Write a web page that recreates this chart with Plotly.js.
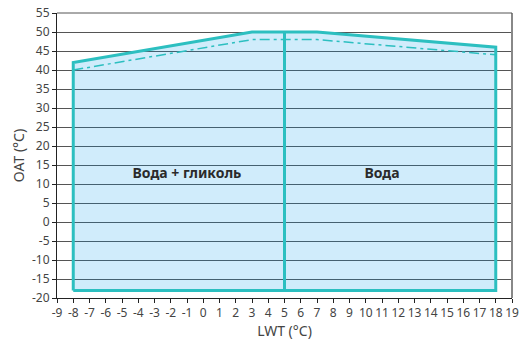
<!DOCTYPE html>
<html><head><meta charset="utf-8">
<script src="https://cdn.plot.ly/plotly-3.0.1.min.js"></script>
<style>html,body{margin:0;padding:0;background:#fff}#c{width:524px;height:340px}</style>
</head><body><div id="c"></div>
<script>
// Operating envelope (solid outline)
const envX = [-8, -8, 3, 7, 18, 18, -8];
const envY = [-18, 42, 50, 50, 46, -18, -18];
// Dash-dot limit
const dashX = [-8, 3, 7, 18];
const dashY = [40, 48, 48, 44];
// Divider between regions
const divX = [5, 5];
const divY = [-18, 50];
// Region labels
const labelText = ["Вода + гликоль", "Вода"];
const labelX = [-1, 11];
const labelY = [12.5, 12.5];
// Tick values
const xTicks = [-9,-8,-7,-6,-5,-4,-3,-2,-1,0,1,2,3,4,5,6,7,8,9,10,11,12,13,14,15,16,17,18,19];
const yTicks = [-20,-15,-10,-5,0,5,10,15,20,25,30,35,40,45,50,55];

const teal = '#2cbfc0';
const traces = [
  {x: envX, y: envY, mode: 'lines', fill: 'toself', fillcolor: 'rgba(0,152,233,0.185)',
   line: {color: teal, width: 3}, hoverinfo: 'skip'},
  {x: dashX, y: dashY, mode: 'lines', line: {color: teal, width: 1.5, dash: '10px,4px,3px,4px'}, hoverinfo: 'skip'},
  {x: divX, y: divY, mode: 'lines', line: {color: teal, width: 3}, hoverinfo: 'skip'},
  {x: labelX, y: labelY, mode: 'text', text: labelText,
   textfont: {family: 'Noto Sans, sans-serif', size: 14, color: '#2b2b2b', weight: 'bold'}, hoverinfo: 'skip'}
];
const font = {family: 'Noto Sans, DejaVu Sans, sans-serif', size: 12, color: '#444'};
const layout = {
  width: 524, height: 340,
  margin: {l: 57, r: 12, t: 13, b: 42},
  showlegend: false,
  paper_bgcolor: '#fff', plot_bgcolor: '#fff',
  font: font,
  xaxis: {range: [-9, 19], tickvals: xTicks, ticktext: xTicks.map(String), showgrid: false, zeroline: false,
    showline: true, linecolor: '#222', linewidth: 1, ticks: 'outside', ticklen: 4, tickcolor: '#222',
    tickfont: {family: font.family, size: 12, color: '#444'},
    title: {text: 'LWT (°C)', font: {family: font.family, size: 14, color: '#444'}, standoff: 0}},
  yaxis: {range: [-20, 55], tickvals: yTicks, ticktext: yTicks.map(String), showgrid: true, gridcolor: '#555', gridwidth: 1,
    zeroline: false, showline: true, linecolor: '#222', linewidth: 1, ticks: 'outside', ticklen: 4, tickcolor: '#222',
    tickfont: {family: font.family, size: 12, color: '#444'},
    title: {text: 'OAT (°C)', font: {family: font.family, size: 14, color: '#444'}, standoff: 4}},
  shapes: [
    {type: 'line', xref: 'paper', yref: 'paper', x0: 1, x1: 1, y0: 0, y1: 1, line: {color: '#888', width: 2}},
    {type: 'line', xref: 'paper', yref: 'paper', x0: 0, x1: 1, y0: 1, y1: 1, line: {color: '#555', width: 1}}
  ]
};
Plotly.newPlot('c', traces, layout, {staticPlot: true});
</script></body></html>
